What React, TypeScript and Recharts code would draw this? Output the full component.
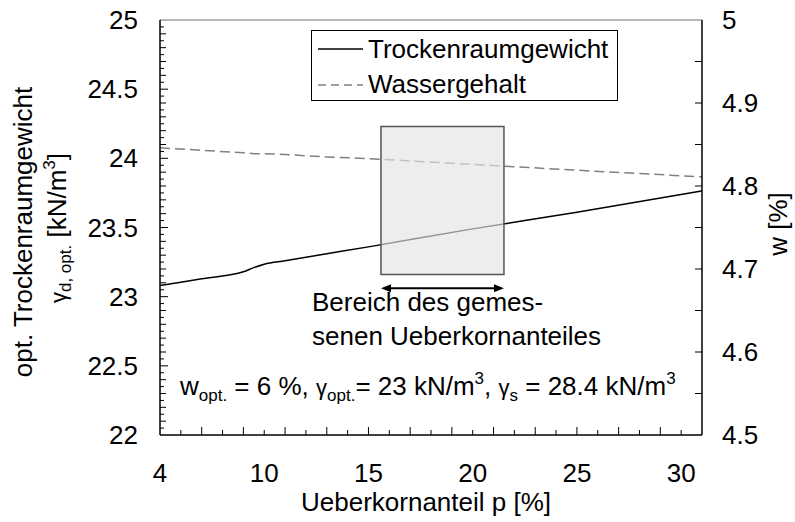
import {
  ComposedChart,
  Line,
  XAxis,
  YAxis,
  ReferenceArea,
  ReferenceLine,
  Legend,
  Customized,
} from 'recharts';

// Ueberkornanteil p [%]
const pValues = [5, 7, 9, 9.5, 10, 11, 13, 15, 20, 25, 31];
// opt. Trockenraumgewicht [kN/m3]
const dryDensity = [23.08, 23.13, 23.18, 23.21, 23.235, 23.26, 23.31, 23.36, 23.49, 23.61, 23.765];
// Wassergehalt w [%]
const waterContent = [4.846, 4.843, 4.84, 4.839, 4.839, 4.838, 4.835, 4.833, 4.826, 4.819, 4.811];

const xTickValues = [5, 10, 15, 20, 25, 30];
const xTickLabels = ['4', '10', '15', '20', '25', '30'];
const leftTickLabels = ['22', '22.5', '23', '23.5', '24', '24.5', '25'];
const rightTickLabels = ['4.5', '4.6', '4.7', '4.8', '4.9', '5'];

// measured range of oversize fraction (box + arrow)
const rangeP = [15.6, 21.5];
const rangeDensity = [23.16, 24.23];
const arrowDensity = 23.06;

const FONT = '"Liberation Sans", Arial, Helvetica, sans-serif';

const data = pValues.map((p, i) => ({
  p,
  density: dryDensity[i],
  water: waterContent[i],
}));

// minor tick positions
const xMinor: number[] = [];
for (let v = 5; v <= 31; v++) xMinor.push(v);
const leftMinor: number[] = [];
for (let i = 0; i <= 60; i++) leftMinor.push(Math.round((22 + i * 0.05) * 100) / 100);
const rightMinor: number[] = [];
for (let i = 0; i <= 10; i++) rightMinor.push(Math.round((4.5 + i * 0.05) * 100) / 100);

const XTick = (props: any) => {
  const { x, y, payload } = props;
  const v = payload.value;
  const idx = xTickValues.indexOf(v);
  const long = (v - 5) % 2 === 0;
  return (
    <g>
      {v > 5 && v < 31 && (
        <line x1={x} x2={x} y1={y} y2={y - (long ? 8 : 5)} stroke="#000" strokeWidth={1} />
      )}
      {idx >= 0 && (
        <text x={x} y={y + 47} textAnchor="middle" fontSize={26} fontFamily={FONT} fill="#000">
          {xTickLabels[idx]}
        </text>
      )}
    </g>
  );
};

const LeftTick = (props: any) => {
  const { x, y, payload } = props;
  const v = payload.value;
  const idx = leftTickLabels.indexOf(String(v));
  const hundred = Math.round(v * 100);
  const len = idx >= 0 ? 8 : hundred % 10 === 0 ? 6 : 4;
  return (
    <g>
      {v > 22 && v < 25 && <line x1={x} x2={x + len} y1={y} y2={y} stroke="#000" strokeWidth={1} />}
      {idx >= 0 && (
        <text x={x - 22} y={y + 9} textAnchor="end" fontSize={26} fontFamily={FONT} fill="#000">
          {leftTickLabels[idx]}
        </text>
      )}
    </g>
  );
};

const RightTick = (props: any) => {
  const { x, y, payload } = props;
  const v = payload.value;
  const idx = rightTickLabels.indexOf(String(v));
  return (
    <g>
      {v > 4.5 && v < 5 && <line x1={x} x2={x - 7} y1={y} y2={y} stroke="#000" strokeWidth={1} />}
      {idx >= 0 && (
        <text x={x + 20} y={y + 9} textAnchor="start" fontSize={26} fontFamily={FONT} fill="#000">
          {rightTickLabels[idx]}
        </text>
      )}
    </g>
  );
};

const ArrowShape = (props: any) => {
  const { x1, y1, x2, y2 } = props;
  const h = 10;
  const w = 4;
  return (
    <g>
      <line x1={x1 + 4} y1={y1} x2={x2 - 4} y2={y2} stroke="#000" strokeWidth={2} />
      <polygon points={`${x1},${y1} ${x1 + h},${y1 - w} ${x1 + h},${y1 + w}`} fill="#000" />
      <polygon points={`${x2},${y2} ${x2 - h},${y2 - w} ${x2 - h},${y2 + w}`} fill="#000" />
    </g>
  );
};

const LegendBox = () => (
  <svg width={307} height={71} style={{ display: 'block' }}>
    <rect x={0.5} y={0.5} width={306} height={70} fill="#fff" stroke="#000" strokeWidth={1} />
    <line x1={7} x2={52} y1={19} y2={19} stroke="#000" strokeWidth={1.5} />
    <text x={57} y={28} fontSize={26} fontFamily={FONT} fill="#000">Trockenraumgewicht</text>
    <line x1={7} x2={52} y1={55} y2={55} stroke="#808080" strokeWidth={1.5} strokeDasharray="8 5" />
    <text x={57} y={63} fontSize={26} fontFamily={FONT} fill="#000">Wassergehalt</text>
  </svg>
);

const Annotations = () => (
  <g fontFamily={FONT} fill="#000">
    {/* left axis title */}
    <text transform="rotate(-90)" x={-232} y={32} textAnchor="middle" fontSize={26}>
      opt. Trockenraumgewicht
    </text>
    <text transform="rotate(-90)" x={-228} y={66} textAnchor="middle" fontSize={26}>
      <tspan fontSize={22}>γ</tspan>
      <tspan fontSize={17} dy={5}>d, opt.</tspan>
      <tspan dy={-5}> [kN/m</tspan>
      <tspan fontSize={17} dy={-11}>3</tspan>
      <tspan dy={11}>]</tspan>
    </text>
    {/* right axis title */}
    <text transform="rotate(-90)" x={-224} y={787} textAnchor="middle" fontSize={26}>
      w [%]
    </text>
    {/* x axis title */}
    <text x={426} y={511} textAnchor="middle" fontSize={26}>
      Ueberkornanteil p [%]
    </text>
    {/* range note */}
    <text x={312} y={311} fontSize={26}>Bereich des gemes-</text>
    <text x={312} y={345} fontSize={26}>senen Ueberkornanteiles</text>
    {/* parameters */}
    <text x={180} y={395} fontSize={26}>
      <tspan>w</tspan>
      <tspan fontSize={17} dy={6}>opt.</tspan>
      <tspan dy={-6}> = 6 %, </tspan>
      <tspan fontSize={22}>γ</tspan>
      <tspan fontSize={17} dy={6}>opt.</tspan>
      <tspan dy={-6}>= 23 kN/m</tspan>
      <tspan fontSize={17} dy={-11}>3</tspan>
      <tspan dy={11}>, </tspan>
      <tspan fontSize={22}>γ</tspan>
      <tspan fontSize={17} dy={6}>s</tspan>
      <tspan dy={-6}> = 28.4 kN/m</tspan>
      <tspan fontSize={17} dy={-11}>3</tspan>
    </text>
  </g>
);

export default function App() {
  return (
    <div style={{ position: 'absolute', left: 0, top: 0, width: 795, height: 522, background: '#fff' }}>
      <ComposedChart
        width={795}
        height={522}
        data={data}
        margin={{ top: 20, right: 0, left: 0, bottom: 0 }}
      >
        <XAxis
          dataKey="p"
          type="number"
          domain={[5, 31]}
          ticks={xMinor}
          interval={0}
          height={87}
          tickSize={0}
          tickMargin={0}
          tickLine={false}
          axisLine={{ stroke: '#000', strokeWidth: 1.5 }}
          tick={<XTick />}
          allowDataOverflow
        />
        <YAxis
          yAxisId="left"
          domain={[22, 25]}
          ticks={leftMinor}
          interval={0}
          width={160}
          tickSize={0}
          tickMargin={0}
          tickLine={false}
          axisLine={{ stroke: '#000', strokeWidth: 1.5 }}
          tick={<LeftTick />}
          allowDataOverflow
        />
        <YAxis
          yAxisId="right"
          orientation="right"
          domain={[4.5, 5]}
          ticks={rightMinor}
          interval={0}
          width={93}
          tickSize={0}
          tickMargin={0}
          tickLine={false}
          axisLine={{ stroke: '#000', strokeWidth: 1.5 }}
          tick={<RightTick />}
          allowDataOverflow
        />
        <ReferenceLine yAxisId="left" y={25} stroke="#a0a0a0" strokeWidth={1.5} />
        <Line
          yAxisId="right"
          dataKey="water"
          name="Wassergehalt"
          type="linear"
          stroke="#808080"
          strokeWidth={1.5}
          strokeDasharray="10 5"
          dot={false}
          isAnimationActive={false}
        />
        <Line
          yAxisId="left"
          dataKey="density"
          name="Trockenraumgewicht"
          type="monotone"
          stroke="#000"
          strokeWidth={1.5}
          dot={false}
          isAnimationActive={false}
        />
        <ReferenceArea
          yAxisId="left"
          x1={rangeP[0]}
          x2={rangeP[1]}
          y1={rangeDensity[0]}
          y2={rangeDensity[1]}
          fill="#e4e4e4"
          fillOpacity={0.65}
          stroke="#555"
          strokeWidth={1.5}
          {...({ zIndex: 1000 } as any)}
        />
        <ReferenceLine
          yAxisId="left"
          segment={[
            { x: rangeP[0], y: arrowDensity },
            { x: rangeP[1], y: arrowDensity },
          ]}
          shape={<ArrowShape />}
        />
        <Legend
          layout="horizontal"
          verticalAlign="middle"
          align="center"
          content={<LegendBox />}
          wrapperStyle={{ left: 311, top: 30, width: 307, height: 71 }}
        />
        <Customized component={<Annotations />} />
      </ComposedChart>
    </div>
  );
}
